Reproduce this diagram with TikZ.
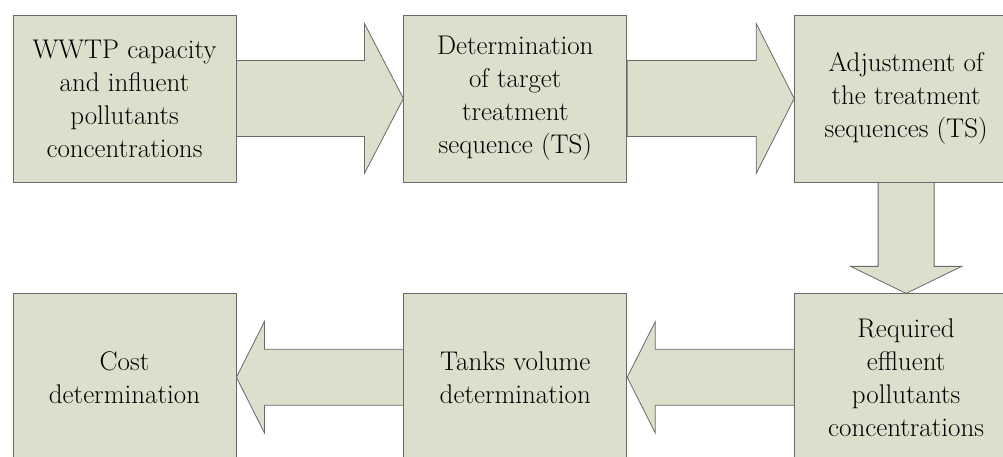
\documentclass[tikz,border=0pt]{standalone}
\usepackage{tikz}
\usetikzlibrary{positioning, calc, backgrounds}
\definecolor{boxfill}{RGB}{220,223,203}
\definecolor{boxline}{RGB}{105,105,105}
\begin{document}
\begin{tikzpicture}[x=1pt, y=1pt,
  font=\fontsize{27}{33}\selectfont, node distance=167pt,
  box/.style={rectangle, draw=boxline, fill=boxfill, line width=0.8pt,
              align=center, inner sep=0pt, minimum width=223pt, minimum height=167pt},
  blk/.style={draw=boxline, fill=boxfill, line width=0.8pt}]
  \clip (0,0) rectangle (1003,457);
  \node[box] (wwtp) at (124.5,358.5) {WWTP capacity\\and influent\\pollutants\\concentrations};
  \node[box, right=of wwtp] (target) {Determination\\of target\\treatment\\sequence (TS)};
  \node[box, right=of target] (adjust) {Adjustment of\\the treatment\\sequences (TS)};
  \node[box, below=111pt of adjust] (effl) {Required\\effluent\\pollutants\\concentrations};
  \node[box, left=of effl] (tanks) {Tanks volume\\determination};
  \node[box, left=of tanks] (cost) {Cost\\determination};
  \begin{scope}[on background layer]
    % top row: wide block arrows
    \draw[blk] ([yshift=38pt]wwtp.east) -- ([shift={(-39pt,38pt)}]target.west)
      -- ([shift={(-39pt,75pt)}]target.west) -- (target.west)
      -- ([shift={(-39pt,-75pt)}]target.west) -- ([shift={(-39pt,-38pt)}]target.west)
      -- ([yshift=-38pt]wwtp.east) -- cycle;
    \draw[blk] ([yshift=38pt]target.east) -- ([shift={(-38pt,38pt)}]adjust.west)
      -- ([shift={(-38pt,75pt)}]adjust.west) -- (adjust.west)
      -- ([shift={(-38pt,-75pt)}]adjust.west) -- ([shift={(-38pt,-38pt)}]adjust.west)
      -- ([yshift=-38pt]target.east) -- cycle;
    % down arrow
    \draw[blk] ([xshift=-28pt]adjust.south) -- ([shift={(-28pt,27pt)}]effl.north)
      -- ([shift={(-55.5pt,27pt)}]effl.north) -- (effl.north)
      -- ([shift={(55.5pt,27pt)}]effl.north) -- ([shift={(28pt,27pt)}]effl.north)
      -- ([xshift=28pt]adjust.south) -- cycle;
    % bottom row: narrow block arrows
    \draw[blk] ([yshift=28pt]effl.west) -- ([shift={(28pt,28pt)}]tanks.east)
      -- ([shift={(28pt,55.5pt)}]tanks.east) -- (tanks.east)
      -- ([shift={(28pt,-55.5pt)}]tanks.east) -- ([shift={(28pt,-28pt)}]tanks.east)
      -- ([yshift=-28pt]effl.west) -- cycle;
    \draw[blk] ([yshift=28pt]tanks.west) -- ([shift={(28pt,28pt)}]cost.east)
      -- ([shift={(28pt,55.5pt)}]cost.east) -- (cost.east)
      -- ([shift={(28pt,-55.5pt)}]cost.east) -- ([shift={(28pt,-28pt)}]cost.east)
      -- ([yshift=-28pt]tanks.west) -- cycle;
  \end{scope}
\end{tikzpicture}
\end{document}
